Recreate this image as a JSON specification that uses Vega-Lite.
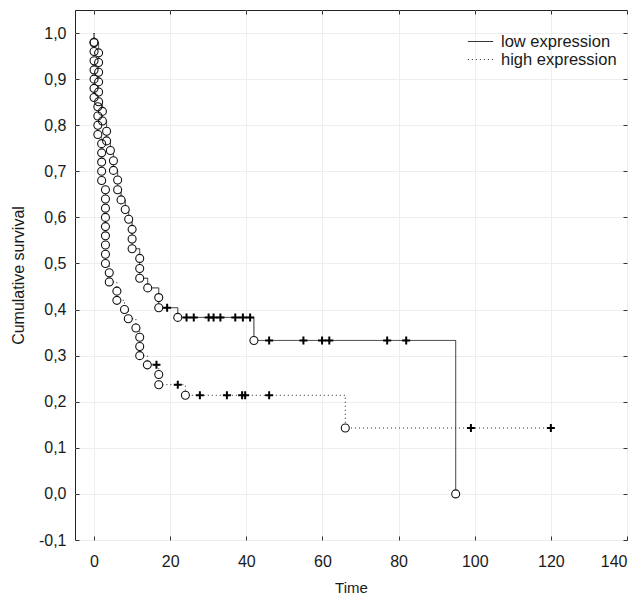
{
  "$schema": "https://vega.github.io/schema/vega-lite/v6.json",
  "width": 552,
  "height": 530,
  "autosize": {"type": "none"},
  "padding": {"left": 75, "top": 10, "right": 17, "bottom": 54},
  "background": "white",
  "config": {
    "view": {"stroke": "#222222", "strokeWidth": 1},
    "font": "Liberation Sans",
    "axis": {
      "labelFont": "Liberation Sans",
      "titleFont": "Liberation Sans",
      "labelFontSize": 16,
      "titleFontSize": 15,
      "titleFontWeight": "normal",
      "labelColor": "#1a1a1a",
      "titleColor": "#1a1a1a",
      "tickColor": "#333333",
      "gridColor": "#eeeeee",
      "domain": false
    }
  },
  "data": {
    "values": [
      {"group": "low expression", "time": 0, "survival": 1, "status": "start"},
      {"group": "low expression", "time": 0, "survival": 0.979, "status": "event"},
      {"group": "low expression", "time": 1.2, "survival": 0.957, "status": "event"},
      {"group": "low expression", "time": 1.2, "survival": 0.936, "status": "event"},
      {"group": "low expression", "time": 1.2, "survival": 0.915, "status": "event"},
      {"group": "low expression", "time": 1.2, "survival": 0.894, "status": "event"},
      {"group": "low expression", "time": 1.2, "survival": 0.872, "status": "event"},
      {"group": "low expression", "time": 1.2, "survival": 0.851, "status": "event"},
      {"group": "low expression", "time": 2.2, "survival": 0.830, "status": "event"},
      {"group": "low expression", "time": 2.2, "survival": 0.809, "status": "event"},
      {"group": "low expression", "time": 3.3, "survival": 0.787, "status": "event"},
      {"group": "low expression", "time": 3.3, "survival": 0.766, "status": "event"},
      {"group": "low expression", "time": 4.3, "survival": 0.745, "status": "event"},
      {"group": "low expression", "time": 5.1, "survival": 0.723, "status": "event"},
      {"group": "low expression", "time": 5.1, "survival": 0.702, "status": "event"},
      {"group": "low expression", "time": 6.2, "survival": 0.681, "status": "event"},
      {"group": "low expression", "time": 6.2, "survival": 0.660, "status": "event"},
      {"group": "low expression", "time": 7.1, "survival": 0.638, "status": "event"},
      {"group": "low expression", "time": 8.2, "survival": 0.617, "status": "event"},
      {"group": "low expression", "time": 9.1, "survival": 0.596, "status": "event"},
      {"group": "low expression", "time": 10, "survival": 0.574, "status": "event"},
      {"group": "low expression", "time": 10, "survival": 0.553, "status": "event"},
      {"group": "low expression", "time": 10, "survival": 0.532, "status": "event"},
      {"group": "low expression", "time": 12, "survival": 0.511, "status": "event"},
      {"group": "low expression", "time": 12, "survival": 0.489, "status": "event"},
      {"group": "low expression", "time": 12, "survival": 0.468, "status": "event"},
      {"group": "low expression", "time": 14.1, "survival": 0.447, "status": "event"},
      {"group": "low expression", "time": 17, "survival": 0.426, "status": "event"},
      {"group": "low expression", "time": 17, "survival": 0.404, "status": "event"},
      {"group": "low expression", "time": 19.2, "survival": 0.404, "status": "censored"},
      {"group": "low expression", "time": 22, "survival": 0.383, "status": "event"},
      {"group": "low expression", "time": 24.3, "survival": 0.383, "status": "censored"},
      {"group": "low expression", "time": 26.2, "survival": 0.383, "status": "censored"},
      {"group": "low expression", "time": 30.1, "survival": 0.383, "status": "censored"},
      {"group": "low expression", "time": 31.4, "survival": 0.383, "status": "censored"},
      {"group": "low expression", "time": 33.2, "survival": 0.383, "status": "censored"},
      {"group": "low expression", "time": 37.1, "survival": 0.383, "status": "censored"},
      {"group": "low expression", "time": 39.1, "survival": 0.383, "status": "censored"},
      {"group": "low expression", "time": 41.0, "survival": 0.383, "status": "censored"},
      {"group": "low expression", "time": 42, "survival": 0.333, "status": "event"},
      {"group": "low expression", "time": 46, "survival": 0.333, "status": "censored"},
      {"group": "low expression", "time": 55, "survival": 0.333, "status": "censored"},
      {"group": "low expression", "time": 59.9, "survival": 0.333, "status": "censored"},
      {"group": "low expression", "time": 61.8, "survival": 0.333, "status": "censored"},
      {"group": "low expression", "time": 77, "survival": 0.333, "status": "censored"},
      {"group": "low expression", "time": 82, "survival": 0.333, "status": "censored"},
      {"group": "low expression", "time": 95, "survival": 0, "status": "event"},
      {"group": "high expression", "time": 0, "survival": 1, "status": "start"},
      {"group": "high expression", "time": 0, "survival": 0.98, "status": "event"},
      {"group": "high expression", "time": 0, "survival": 0.96, "status": "event"},
      {"group": "high expression", "time": 0, "survival": 0.94, "status": "event"},
      {"group": "high expression", "time": 0, "survival": 0.92, "status": "event"},
      {"group": "high expression", "time": 0, "survival": 0.90, "status": "event"},
      {"group": "high expression", "time": 0, "survival": 0.88, "status": "event"},
      {"group": "high expression", "time": 0, "survival": 0.86, "status": "event"},
      {"group": "high expression", "time": 1, "survival": 0.84, "status": "event"},
      {"group": "high expression", "time": 1, "survival": 0.82, "status": "event"},
      {"group": "high expression", "time": 1, "survival": 0.80, "status": "event"},
      {"group": "high expression", "time": 1, "survival": 0.78, "status": "event"},
      {"group": "high expression", "time": 2, "survival": 0.76, "status": "event"},
      {"group": "high expression", "time": 2, "survival": 0.74, "status": "event"},
      {"group": "high expression", "time": 2, "survival": 0.72, "status": "event"},
      {"group": "high expression", "time": 2, "survival": 0.70, "status": "event"},
      {"group": "high expression", "time": 2, "survival": 0.68, "status": "event"},
      {"group": "high expression", "time": 3, "survival": 0.66, "status": "event"},
      {"group": "high expression", "time": 3, "survival": 0.64, "status": "event"},
      {"group": "high expression", "time": 3, "survival": 0.62, "status": "event"},
      {"group": "high expression", "time": 3, "survival": 0.60, "status": "event"},
      {"group": "high expression", "time": 3, "survival": 0.58, "status": "event"},
      {"group": "high expression", "time": 3, "survival": 0.56, "status": "event"},
      {"group": "high expression", "time": 3, "survival": 0.54, "status": "event"},
      {"group": "high expression", "time": 3, "survival": 0.52, "status": "event"},
      {"group": "high expression", "time": 3, "survival": 0.50, "status": "event"},
      {"group": "high expression", "time": 4, "survival": 0.48, "status": "event"},
      {"group": "high expression", "time": 4, "survival": 0.46, "status": "event"},
      {"group": "high expression", "time": 6, "survival": 0.44, "status": "event"},
      {"group": "high expression", "time": 6, "survival": 0.42, "status": "event"},
      {"group": "high expression", "time": 8, "survival": 0.40, "status": "event"},
      {"group": "high expression", "time": 9, "survival": 0.38, "status": "event"},
      {"group": "high expression", "time": 11, "survival": 0.36, "status": "event"},
      {"group": "high expression", "time": 12, "survival": 0.34, "status": "event"},
      {"group": "high expression", "time": 12, "survival": 0.32, "status": "event"},
      {"group": "high expression", "time": 12, "survival": 0.30, "status": "event"},
      {"group": "high expression", "time": 14, "survival": 0.28, "status": "event"},
      {"group": "high expression", "time": 16.4, "survival": 0.28, "status": "censored"},
      {"group": "high expression", "time": 17, "survival": 0.259, "status": "event"},
      {"group": "high expression", "time": 17, "survival": 0.237, "status": "event"},
      {"group": "high expression", "time": 22, "survival": 0.237, "status": "censored"},
      {"group": "high expression", "time": 24, "survival": 0.214, "status": "event"},
      {"group": "high expression", "time": 27.8, "survival": 0.214, "status": "censored"},
      {"group": "high expression", "time": 34.9, "survival": 0.214, "status": "censored"},
      {"group": "high expression", "time": 38.9, "survival": 0.214, "status": "censored"},
      {"group": "high expression", "time": 39.7, "survival": 0.214, "status": "censored"},
      {"group": "high expression", "time": 46, "survival": 0.214, "status": "censored"},
      {"group": "high expression", "time": 66, "survival": 0.143, "status": "event"},
      {"group": "high expression", "time": 99, "survival": 0.143, "status": "censored"},
      {"group": "high expression", "time": 120, "survival": 0.143, "status": "censored"}
    ]
  },
  "resolve": {"axis": {"x": "independent", "y": "independent"}},
  "layer": [
    {
      "mark": {"type": "line", "interpolate": "step-after", "color": "#222222", "strokeWidth": 1},
      "encoding": {
        "x": {"field": "time", "type": "quantitative",
              "scale": {"domain": [-5, 140], "nice": false, "zero": false},
              "axis": {"orient": "bottom", "values": [0, 20, 40, 60, 80, 100, 120, 140], "tickSize": -4, "labelPadding": 17, "title": "Time", "titlePadding": 11, "grid": true}},
        "y": {"field": "survival", "type": "quantitative",
              "scale": {"domain": [-0.1, 1.05], "nice": false, "zero": false},
              "axis": {"orient": "left", "values": [-0.1, 0, 0.1, 0.2, 0.3, 0.4, 0.5, 0.6, 0.7, 0.8, 0.9, 1.0], "tickSize": -4, "labelPadding": 13, "title": "Cumulative survival", "titleFontSize": 16, "titlePadding": 12, "grid": true,
                       "labelExpr": "(datum.value < 0 ? '-' : '') + replace(format(abs(datum.value), '.1f'), '.', ',')"}},
        "strokeDash": {"field": "group", "type": "nominal",
                       "scale": {"domain": ["low expression", "high expression"], "range": [[1, 0], [1, 3]]},
                       "legend": {"title": null, "orient": "none", "legendX": 396, "legendY": 22, "padding": 0, "rowPadding": 0,
                                  "symbolType": "M-1.4,0H1.4", "symbolSize": 324, "symbolStrokeWidth": 1, "symbolStrokeColor": "#222222",
                                  "labelFont": "Liberation Sans", "labelFontSize": 16.5, "labelColor": "#1a1a1a", "labelOffset": 11}},
        "order": [{"field": "time", "type": "quantitative"}, {"field": "survival", "type": "quantitative", "sort": "descending"}]
      }
    },
    {
      "transform": [{"filter": "datum.status == 'event'"}],
      "mark": {"type": "point", "shape": "circle", "size": 64, "filled": true, "fill": "white", "strokeWidth": 0, "opacity": 1},
      "encoding": {
        "x": {"field": "time", "type": "quantitative", "axis": null},
        "y": {"field": "survival", "type": "quantitative", "axis": null}
      }
    },
    {
      "transform": [{"filter": "datum.status == 'event'"}],
      "mark": {"type": "point", "shape": "circle", "size": 64, "filled": false, "stroke": "#111111", "strokeWidth": 1.1, "opacity": 1},
      "encoding": {
        "x": {"field": "time", "type": "quantitative", "axis": null},
        "y": {"field": "survival", "type": "quantitative", "axis": null}
      }
    },
    {
      "transform": [{"filter": "datum.status == 'censored'"}],
      "mark": {"type": "point", "shape": "M-1,0H1M0,-1V1", "size": 64, "filled": false, "stroke": "#000000", "strokeWidth": 2, "opacity": 1},
      "encoding": {
        "x": {"field": "time", "type": "quantitative", "axis": null},
        "y": {"field": "survival", "type": "quantitative", "axis": null}
      }
    },
    {
      "transform": [{"filter": "datum.status == 'censored'"}],
      "mark": {"type": "point", "opacity": 0},
      "encoding": {
        "x": {"field": "time", "type": "quantitative",
              "axis": {"orient": "top", "values": [0, 20, 40, 60, 80, 100, 120, 140], "tickSize": -4, "labels": false, "title": null, "grid": false}},
        "y": {"field": "survival", "type": "quantitative",
              "axis": {"orient": "right", "values": [-0.1, 0, 0.1, 0.2, 0.3, 0.4, 0.5, 0.6, 0.7, 0.8, 0.9, 1.0], "tickSize": -4, "labels": false, "title": null, "grid": false}}
      }
    }
  ]
}
